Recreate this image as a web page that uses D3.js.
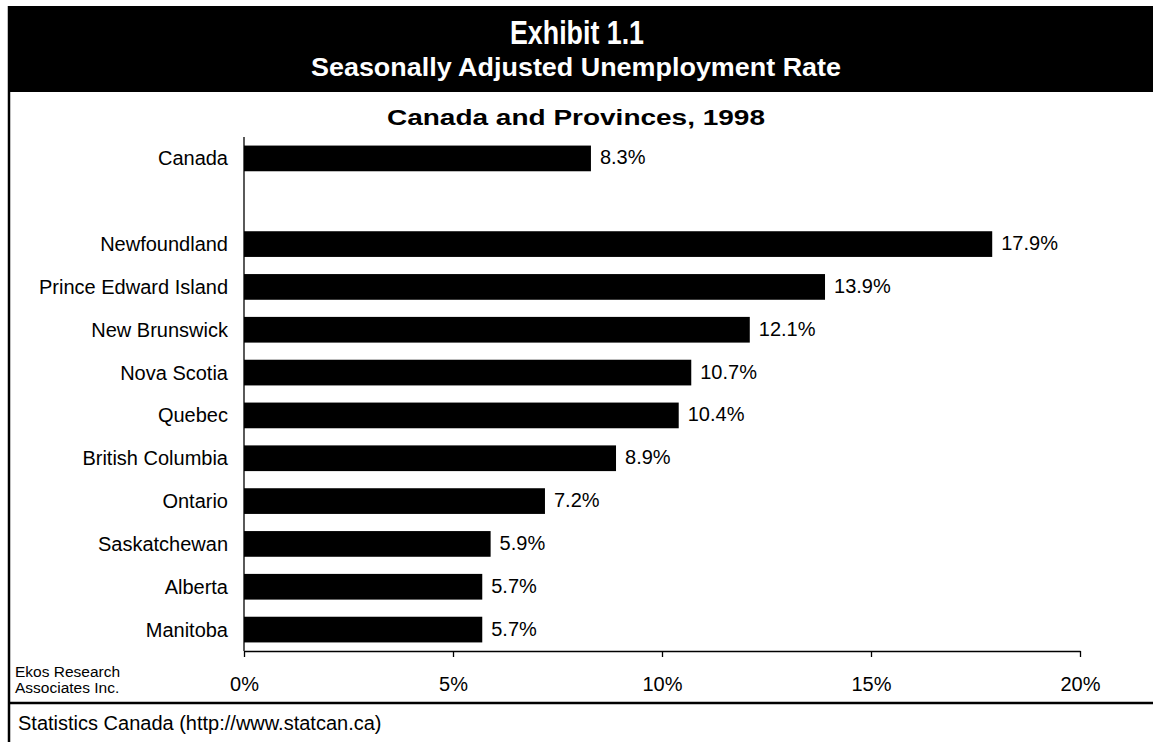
<!DOCTYPE html>
<html>
<head>
<meta charset="utf-8">
<script src="https://cdn.jsdelivr.net/npm/d3@7"></script>
<style>
  html, body { margin: 0; padding: 0; background: #fff; }
  svg { display: block; }
  text { font-family: "Liberation Sans", Arial, sans-serif; }
</style>
</head>
<body>
<svg id="chart" width="1153" height="742"></svg>
<script>
const categories = ["Canada", "", "Newfoundland", "Prince Edward Island", "New Brunswick", "Nova Scotia", "Quebec", "British Columbia", "Ontario", "Saskatchewan", "Alberta", "Manitoba"];
const values = [8.3, null, 17.9, 13.9, 12.1, 10.7, 10.4, 8.9, 7.2, 5.9, 5.7, 5.7];
const tickValues = [0, 5, 10, 15, 20];
const titleText = "Exhibit 1.1";
const subtitleText = "Seasonally Adjusted Unemployment Rate";
const chartTitle = "Canada and Provinces, 1998";
const sourceText = "Statistics Canada (http://www.statcan.ca)";
const creditLines = ["Ekos Research", "Associates Inc."];

const svg = d3.select("#chart");
const W = 1153, H = 742;

// header
svg.append("rect").attr("x", 8).attr("y", 6).attr("width", W - 8).attr("height", 86).attr("fill", "#000");
svg.append("text").attr("x", 577).attr("y", 44).attr("text-anchor", "middle")
  .attr("fill", "#fff").attr("font-weight", "bold").attr("font-size", 33)
  .attr("textLength", 134).attr("lengthAdjust", "spacingAndGlyphs").text(titleText);
svg.append("text").attr("x", 576).attr("y", 76).attr("text-anchor", "middle")
  .attr("fill", "#fff").attr("font-weight", "bold").attr("font-size", 26)
  .attr("textLength", 530).attr("lengthAdjust", "spacingAndGlyphs").text(subtitleText);

// frame
svg.append("line").attr("x1", 9).attr("x2", 9).attr("y1", 6).attr("y2", H).attr("stroke", "#000").attr("stroke-width", 2.5);
svg.append("line").attr("x1", 8).attr("x2", W).attr("y1", 703).attr("y2", 703).attr("stroke", "#000").attr("stroke-width", 2.5);

svg.append("text").attr("x", 576).attr("y", 125).attr("text-anchor", "middle")
  .attr("font-weight", "bold").attr("font-size", 22)
  .attr("textLength", 378).attr("lengthAdjust", "spacingAndGlyphs").text(chartTitle);

const x = d3.scaleLinear().domain([0, 20]).range([244, 1080]);
const y = d3.scaleBand().domain(d3.range(categories.length)).range([137, 651]).paddingInner(0.4).paddingOuter(0.2);

// bars
const data = categories.map((c, i) => ({ c, v: values[i], i })).filter(d => d.v !== null);
svg.append("g").selectAll("rect").data(data).join("rect")
  .attr("x", x(0)).attr("y", d => y(d.i)).attr("width", d => x(d.v) - x(0)).attr("height", y.bandwidth())
  .attr("fill", "#000");

svg.append("g").selectAll("text").data(data).join("text")
  .attr("x", d => x(d.v) + 9).attr("y", d => y(d.i) + y.bandwidth() / 2 - 1)
  .attr("dominant-baseline", "central").attr("font-size", 20).text(d => d.v.toFixed(1) + "%");

// y axis labels
svg.append("g").selectAll("text").data(categories.map((c, i) => ({ c, i })).filter(d => d.c))
  .join("text").attr("x", 228).attr("y", d => y(d.i) + y.bandwidth() / 2)
  .attr("text-anchor", "end").attr("dominant-baseline", "central").attr("font-size", 20).text(d => d.c);

// axes
const yLine = y.range();
svg.append("line").attr("x1", x(0)).attr("x2", x(0)).attr("y1", yLine[0]).attr("y2", 651).attr("stroke", "#000").attr("stroke-width", 1.3);
const xAxis = d3.axisBottom(x).tickValues(tickValues).tickSize(6).tickSizeOuter(0).tickFormat(d => d + "%").tickPadding(20);
const gx = svg.append("g").attr("transform", "translate(0,651)").call(xAxis);
gx.select(".domain").attr("stroke", "#000").attr("stroke-width", 1.3);
gx.selectAll(".tick line").attr("stroke", "#000").attr("stroke-width", 1.3);
gx.selectAll(".tick text").attr("font-size", 20).attr("font-family", "Liberation Sans, Arial, sans-serif").attr("fill", "#000");

// credit
svg.append("g").selectAll("text").data(creditLines).join("text")
  .attr("x", 15).attr("y", (d, i) => 677 + i * 16).attr("font-size", 15.5).text(d => d);

svg.append("text").attr("x", 18).attr("y", 730).attr("font-size", 20).text(sourceText);
</script>
</body>
</html>
